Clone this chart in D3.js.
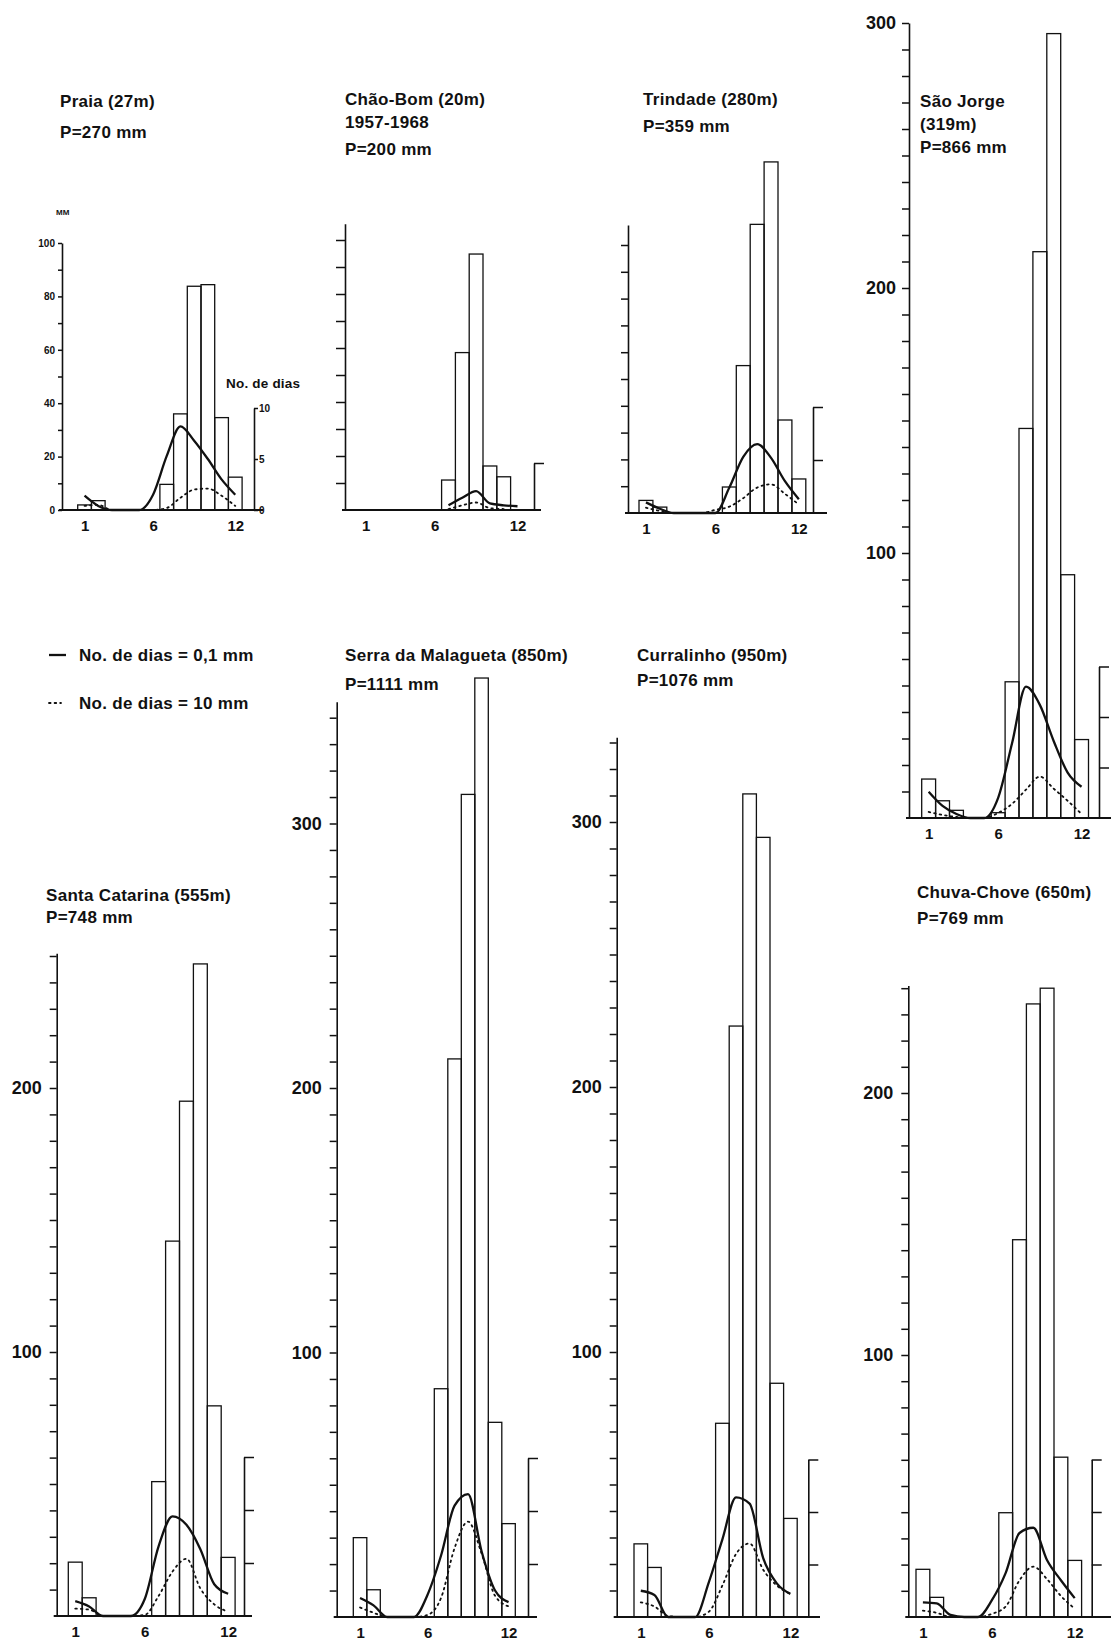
<!DOCTYPE html>
<html><head><meta charset="utf-8">
<script src="https://cdn.jsdelivr.net/npm/d3@7"></script>
<style>
body{margin:0;background:#fff}
text{font-family:"Liberation Sans",Arial,sans-serif;font-weight:bold;fill:#111}
</style>
</head><body>
<svg id="c" width="1111" height="1647"></svg>
<script>
// ---------- DATA ----------
const months = [1,2,3,4,5,6,7,8,9,10,11,12];
const monthTickLabels = [1,6,12];

// Monthly rainfall (mm)
const praiaRain    = [1.9,3.5,0,0,0,0,9.6,36,83.8,84.4,34.6,12.3];
const chaoBomRain  = [0,0,0,0,0,0,11.1,58.3,94.8,16.3,12.3,0];
const trindadeRain = [4.7,2.2,0,0,0,0,9.7,55,107.7,131,34.7,12.7];
const saoJorgeRain = [14.7,6.5,2.9,0,0,2,51.4,147,213.7,296,91.8,29.6];
const santaCatRain = [20.4,6.9,0,0,0,0,50.9,142,195,247,79.6,22.2];
const serraRain    = [30,10.3,0,0,0,0,86.3,211,311,355,73.6,35.3];
const curralRain   = [27.6,18.7,0,0,0,0,73.1,223,310.6,294.2,88.2,37.2];
const chuvaRain    = [18.2,7.5,0,0,0,0,39.8,144,234,240,61,21.6];

// No. de dias >= 0,1 mm (solid line)
const praiaDays01    = [1.4,0.4,0,0,0,1.5,5.3,8.2,6.8,5.0,3.0,1.5];
const chaoBomDays01  = [null,null,null,null,null,null,0.5,1.3,2.0,0.7,0.5,0.4];
const trindadeDays01 = [1.0,0.4,0,0,0,0,2.4,5.3,6.5,5.2,3.0,1.3];
const saoJorgeDays01 = [2.6,1.2,0.4,0,0,2.0,7.4,13.0,11.2,7.6,4.5,3.1];
const santaCatDays01 = [1.4,0.9,0,0,0,1.6,6.6,9.4,8.6,6.3,3.0,2.1];
const serraDays01    = [1.8,1.1,0,0,0,2.1,5.8,10.5,11.6,6.2,2.5,1.4];
const curralDays01   = [2.5,2.1,0,0,0,3.3,7.4,11.4,10.8,5.6,3.2,2.2];
const chuvaDays01    = [1.4,1.3,0.2,0,0,1.6,4.2,8.0,8.5,5.4,3.5,1.8];

// No. de dias >= 10 mm (dotted line)
const praiaDays10    = [0.4,0.5,0,0,0,0,0.2,1.2,2.0,2.1,1.4,0.4];
const chaoBomDays10  = [null,null,null,null,null,null,0.1,0.5,0.8,0.2,0.1,null];
const trindadeDays10 = [0.5,0.2,0,0,0,0.3,0.6,1.4,2.4,2.7,1.8,0.8];
const saoJorgeDays10 = [0.6,0.3,0.1,0,0,0.5,1.4,2.8,4.1,2.9,1.7,0.4];
const santaCatDays10 = [0.7,0.6,0,0,0,0.1,1.9,4.2,5.4,2.6,1.1,0.4];
const serraDays10    = [0.9,0.4,0,0,0,0.2,1.8,6.5,9.0,6.0,2.0,1.0];
const curralDays10   = [1.4,1.0,0.1,0,0,0.5,3.0,6.0,7.0,4.5,3.0,2.2];
const chuvaDays10    = [0.6,0.4,0,0,0,0.3,1.0,3.5,4.8,3.6,2.0,0.8];

// Titles
const praiaTitle    = ["Praia (27m)","P=270 mm"];
const chaoBomTitle  = ["Chão-Bom (20m)","1957-1968","P=200 mm"];
const trindadeTitle = ["Trindade (280m)","P=359 mm"];
const saoJorgeTitle = ["São Jorge","(319m)","P=866 mm"];
const santaCatTitle = ["Santa Catarina (555m)","P=748 mm"];
const serraTitle    = ["Serra da Malagueta (850m)","P=1111 mm"];
const curralTitle   = ["Curralinho (950m)","P=1076 mm"];
const chuvaTitle    = ["Chuva-Chove (650m)","P=769 mm"];

const legendLabels = ["No. de dias = 0,1 mm","No. de dias = 10 mm"];

// ---------- LAYOUT ----------
const panels = [
 {rain:praiaRain,d01:praiaDays01,d10:praiaDays10,title:praiaTitle,tx:60,ty:[107,138],
  ax:62,jan:77.7,w:13.7,base:510,pxmm:2.67,top:100,labels:[0,20,40,60,80,100],lf:10,tick:4,pad:3,
  rx:254,dmax:10,pxd:10.2,dayTicks:[0,5,10],dayLabels:true,x1:263},
 {rain:chaoBomRain,d01:chaoBomDays01,d10:chaoBomDays10,title:chaoBomTitle,tx:345,ty:[105,128,155],
  ax:345,jan:358.8,w:13.8,base:510,pxmm:2.7,top:106,labels:[],lf:10,tick:9,pad:3,
  rx:534,dmax:5,pxd:9.4,dayTicks:[5],dayLabels:false,x1:541},
 {rain:trindadeRain,d01:trindadeDays01,d10:trindadeDays10,title:trindadeTitle,tx:643,ty:[105,132],
  ax:628,jan:639,w:13.9,base:513,pxmm:2.68,top:107.5,labels:[],lf:10,tick:7,pad:3,
  rx:813,dmax:10,pxd:10.6,dayTicks:[5,10],dayLabels:false,x1:827},
 {rain:saoJorgeRain,d01:saoJorgeDays01,d10:saoJorgeDays10,title:saoJorgeTitle,tx:920,ty:[107,130,153],
  ax:909,jan:921.7,w:13.9,base:818,pxmm:2.65,top:300,labels:[100,200,300],lf:18,tick:7,pad:6,
  rx:1099,dmax:15,pxd:10.1,dayTicks:[5,10,15],dayLabels:false,x1:1111},
 {rain:santaCatRain,d01:santaCatDays01,d10:santaCatDays10,title:santaCatTitle,tx:46,ty:[901,923],
  ax:56.7,jan:68.3,w:13.9,base:1616,pxmm:2.64,top:251,labels:[100,200],lf:18,tick:7,pad:8,
  rx:244,dmax:15,pxd:10.6,dayTicks:[5,10,15],dayLabels:false,x1:252},
 {rain:serraRain,d01:serraDays01,d10:serraDays10,title:serraTitle,tx:345,ty:[661,690],
  ax:336.7,jan:353.3,w:13.5,base:1617,pxmm:2.645,top:346,labels:[100,200,300],lf:18,tick:7,pad:8,
  rx:528,dmax:15,pxd:10.6,dayTicks:[5,10,15],dayLabels:false,x1:537},
 {rain:curralRain,d01:curralDays01,d10:curralDays10,title:curralTitle,tx:637,ty:[661,686],
  ax:616.7,jan:634,w:13.6,base:1617,pxmm:2.65,top:332,labels:[100,200,300],lf:18,tick:7,pad:8,
  rx:808.3,dmax:15,pxd:10.5,dayTicks:[5,10,15],dayLabels:false,x1:820},
 {rain:chuvaRain,d01:chuvaDays01,d10:chuvaDays10,title:chuvaTitle,tx:917,ty:[898,924],
  ax:908.3,jan:916,w:13.8,base:1617,pxmm:2.62,top:241,labels:[100,200],lf:18,tick:7,pad:8,
  rx:1091.7,dmax:15,pxd:10.5,dayTicks:[5,10,15],dayLabels:false,x1:1111}
];

const FONT = '"Liberation Sans",Arial,sans-serif';
const svg = d3.select("#c");
svg.append("rect").attr("width",1111).attr("height",1647).attr("fill","#fff");
const ink = "#111";

panels.forEach(p => {
  const g = svg.append("g");
  const y = d3.scaleLinear().domain([0,p.top]).range([p.base, p.base - p.top*p.pxmm]);
  const x = d3.scaleLinear().domain([0.5,12.5]).range([p.jan, p.jan + 12*p.w]);
  const yd = d3.scaleLinear().domain([0,p.dmax]).range([p.base, p.base - p.dmax*p.pxd]);

  // left axis
  const la = d3.axisLeft(y).tickValues(d3.range(0, p.top+0.01, 10))
     .tickSize(p.tick).tickSizeOuter(0).tickPadding(p.pad)
     .tickFormat(d => p.labels.includes(d) ? d : "");
  const lag = g.append("g").attr("transform",`translate(${p.ax},0)`).call(la);
  lag.selectAll("path").attr("stroke",ink).attr("stroke-width",1.6);
  lag.selectAll("line").attr("stroke",ink).attr("stroke-width",1.5);
  lag.selectAll("text").attr("font-size",p.lf).attr("fill",ink)
     .attr("font-family",FONT).attr("font-weight","bold");
  lag.selectAll(".tick").filter(d => d===0 && !p.labels.includes(0)).select("line").remove();

  // bars
  g.selectAll("rect.bar").data(months.filter((m,i)=>p.rain[i]>0)).enter().append("rect")
    .attr("x", m => x(m-0.5)).attr("width", p.w)
    .attr("y", m => y(p.rain[m-1])).attr("height", m => p.base - y(p.rain[m-1]))
    .attr("fill","none").attr("stroke",ink).attr("stroke-width",1.3);

  // baseline
  g.append("line").attr("x1",p.ax-3).attr("x2",p.x1).attr("y1",p.base).attr("y2",p.base)
    .attr("stroke",ink).attr("stroke-width",2.2);

  // right (days) axis
  const ra = d3.axisRight(yd).tickValues(p.dayTicks).tickSize(p.dayLabels?4:10).tickSizeOuter(0)
     .tickPadding(1).tickFormat(d => p.dayLabels ? d : "");
  const rag = g.append("g").attr("transform",`translate(${p.rx},0)`).call(ra);
  rag.selectAll("path").attr("stroke",ink).attr("stroke-width",1.6);
  rag.selectAll("line").attr("stroke",ink).attr("stroke-width",1.5);
  rag.selectAll("text").attr("font-size",10).attr("fill",ink)
     .attr("font-family",FONT).attr("font-weight","bold");

  // month labels
  const ba = d3.axisBottom(x).tickValues(monthTickLabels).tickSize(0).tickPadding(10);
  const bag = g.append("g").attr("transform",`translate(0,${p.base})`).call(ba);
  bag.select("path").remove();
  bag.selectAll("text").attr("font-size",15).attr("fill",ink)
     .attr("font-family",FONT).attr("font-weight","bold");

  // lines
  const mk = arr => d3.line().defined(d => d!=null).curve(d3.curveMonotoneX)
      .x((d,i) => x(i+1)).y(d => yd(d))(arr);
  g.append("path").attr("d", mk(p.d10)).attr("fill","none").attr("stroke",ink)
    .attr("stroke-width",1.8).attr("stroke-dasharray","1.6,4").attr("stroke-linecap","round");
  g.append("path").attr("d", mk(p.d01)).attr("fill","none").attr("stroke",ink)
    .attr("stroke-width",2.3).attr("stroke-linejoin","round");

  // title
  p.title.forEach((t,i) => {
    g.append("text").attr("x",p.tx).attr("y",p.ty[i]).attr("font-size",17)
      .attr("letter-spacing",0.3).text(t);
  });
});

// extra labels
svg.append("text").attr("x",56).attr("y",215).attr("font-size",8).text("MM");
svg.append("text").attr("x",226).attr("y",388).attr("font-size",13.5).attr("letter-spacing",0.2).text("No. de dias");

// legend
svg.append("line").attr("x1",49).attr("x2",66).attr("y1",655).attr("y2",655)
  .attr("stroke",ink).attr("stroke-width",2.3);
svg.append("line").attr("x1",49).attr("x2",61).attr("y1",703).attr("y2",703)
  .attr("stroke",ink).attr("stroke-width",1.8).attr("stroke-dasharray","1.6,4").attr("stroke-linecap","round");
svg.append("text").attr("x",79).attr("y",661).attr("font-size",17).attr("letter-spacing",0.3).text(legendLabels[0]);
svg.append("text").attr("x",79).attr("y",709).attr("font-size",17).attr("letter-spacing",0.3).text(legendLabels[1]);
</script>
</body></html>
